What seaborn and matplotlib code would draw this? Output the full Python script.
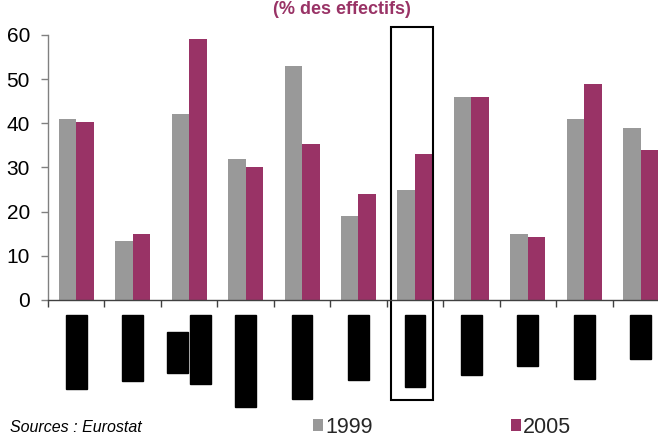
import pandas as pd
import numpy as np
import matplotlib
matplotlib.use('Agg')
import matplotlib.pyplot as plt
from matplotlib.patches import Rectangle, Patch
import seaborn as sns

# Category labels (hidden in the reference by black boxes)
countries = ['Slovaquie', 'Belgique', 'Zone\neuro (12)', 'Luxembourg', 'République',
             'Finlande', 'Pays-Bas', 'Hongrie', 'Suède', 'Portugal', 'Malte']
years = ['1999', '2005']
values_1999 = [41, 13.3, 42, 32, 53, 19, 25, 46, 15, 41, 39]
values_2005 = [40.2, 15, 59, 30, 35.3, 24, 33, 46, 14.2, 49, 34]
y_ticks = [0, 10, 20, 30, 40, 50, 60]
title = '(% des effectifs)'
source = 'Sources : Eurostat'

colors = {'1999': '#999999', '2005': '#993366'}

df = pd.DataFrame({
    'pays': countries * 2,
    'annee': ['1999'] * len(countries) + ['2005'] * len(countries),
    'valeur': values_1999 + values_2005,
})

sns.set_theme(style='white')
plt.rcParams['font.family'] = ['Liberation Sans', 'DejaVu Sans']

fig = plt.figure(figsize=(6.58, 4.38), dpi=100)
ax = fig.add_axes([0.0729, 0.3151, 0.9438, 0.605])

sns.barplot(ax=ax, data=df, x='pays', y='valeur', hue='annee', palette=colors,
            width=0.62, gap=0, saturation=1, legend=False, errorbar=None,
            linewidth=0, edgecolor='none')

ax.set_xlim(-0.5, 10.5)
ax.set_ylim(0, 60)
ax.set_xlabel('')
ax.set_ylabel('')
ax.set_yticks(y_ticks)
ax.tick_params(axis='y', labelsize=15, left=True, length=5, width=1, color='#808080',
               pad=8, labelcolor='black')
# ticks between categories, labels drawn separately
ax.set_xticks(np.arange(-0.5, len(countries), 1))
ax.set_xticklabels([])
ax.tick_params(axis='x', bottom=True, length=5, width=1, color='#404040')

for side in ['top', 'right']:
    ax.spines[side].set_visible(False)
ax.spines['left'].set_color('#808080')
ax.spines['bottom'].set_color('#404040')
ax.spines['left'].set_linewidth(1)
ax.spines['bottom'].set_linewidth(1)

# category labels, masked in black like the reference (one box per line)
box = dict(boxstyle='square,pad=0.22', fc='black', ec='black')
for i, name in enumerate(countries):
    lines = name.split('\n')
    if len(lines) == 1:
        ax.text(i, -4.2, name, rotation=90, ha='center', va='top', fontsize=11,
                color='black', clip_on=False, bbox=box)
    else:
        ax.text(i - 0.205, -8.0, lines[0], rotation=90, ha='center', va='top',
                fontsize=11, color='black', clip_on=False, bbox=box)
        ax.text(i + 0.2, -4.2, lines[1], rotation=90, ha='center', va='top',
                fontsize=11, color='black', clip_on=False, bbox=box)

# highlight frame around one category
ax.add_patch(Rectangle((5.58, -22.6), 0.74, 84.4, fill=False, ec='black', lw=1.5,
                       clip_on=False))

fig.text(0.52, 1 - 1 / 438, title, ha='center', va='top', fontsize=13,
         fontweight='bold', color='#993366')
fig.text(0.015, 0.025, source, ha='left', va='center', fontsize=11.5, style='italic',
         color='black')

handles = [Patch(facecolor=colors[y], edgecolor='none', label=y) for y in years]
fig.legend(handles=handles, loc='center', bbox_to_anchor=(0.672, 0.025), ncol=2,
           frameon=False, fontsize=15.5, handlelength=0.47, handleheight=0.47,
           handletextpad=0.1, columnspacing=6.4, borderpad=0)

fig.savefig('out.png', dpi=100)
